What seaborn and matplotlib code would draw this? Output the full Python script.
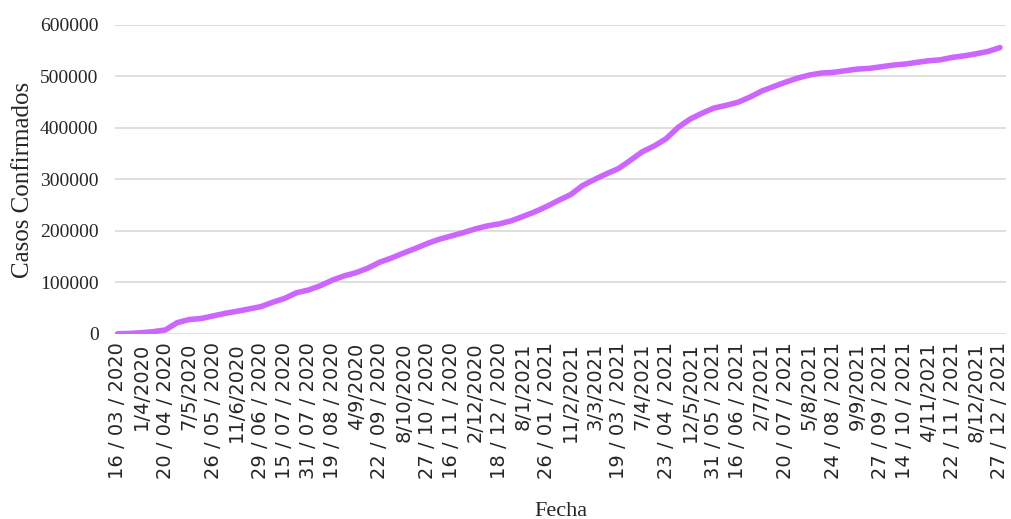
import numpy as np
import pandas as pd
import seaborn as sns
import matplotlib.pyplot as plt

# etiquetas del eje x (una cada ~17 días de registro)
fechas = ['16 / 03 / 2020', '1/4/2020', '20 / 04 / 2020', '7/5/2020', '26 / 05 / 2020',
          '11/6/2020', '29 / 06 / 2020', '15 / 07 / 2020', '31 / 07 / 2020', '19 / 08 / 2020',
          '4/9/2020', '22 / 09 / 2020', '8/10/2020', '27 / 10 / 2020', '16 / 11 / 2020',
          '2/12/2020', '18 / 12 / 2020', '8/1/2021', '26 / 01 / 2021', '11/2/2021',
          '3/3/2021', '19 / 03 / 2021', '7/4/2021', '23 / 04 / 2021', '12/5/2021',
          '31 / 05 / 2021', '16 / 06 / 2021', '2/7/2021', '20 / 07 / 2021', '5/8/2021',
          '24 / 08 / 2021', '9/9/2021', '27 / 09 / 2021', '14 / 10 / 2021', '4/11/2021',
          '22 / 11 / 2021', '8/12/2021', '27 / 12 / 2021']

# casos confirmados acumulados, leídos cada media etiqueta
casos = [500, 1000, 2500, 4500, 7800, 22000, 28000, 30000, 35000, 40000,
         44000, 48500, 53000, 61500, 69000, 80000, 85300, 93700, 104400, 112800,
         119000, 128000, 139500, 147800, 157400, 166300, 175900, 184000, 190400, 196800,
         204000, 209800, 213700, 219600, 228200, 237300, 247800, 259600, 270600, 288200,
         300000, 311000, 321000, 337000, 353700, 365000, 379000, 401000, 417000, 428500,
         438500, 443700, 449600, 459500, 471400, 480200, 488700, 496600, 502600, 506500,
         507800, 510900, 514200, 515500, 518600, 521900, 523900, 527200, 530300, 532300,
         536900, 540000, 543900, 548500, 556000]

df = pd.DataFrame({'pos': np.arange(len(casos)) / 2, 'casos': casos})

sns.set_style('white')
plt.rcParams['font.family'] = ['Liberation Serif', 'DejaVu Serif']

fig = plt.figure(figsize=(10.11, 5.19), dpi=100)
ax = fig.add_axes([0.114, 0.3565, 0.881, 0.5955])

sns.lineplot(data=df, x='pos', y='casos', color='#CC66FF', linewidth=4, ax=ax)

ax.set_ylim(0, 600000)
ax.set_yticks(range(0, 600001, 100000))
ax.set_xlim(-0.1, len(fechas) - 1 + 0.25)
ax.set_xticks(range(len(fechas)))
ax.set_xticklabels(fechas, rotation=90, family='DejaVu Sans', fontsize=14)
ax.tick_params(axis='y', labelsize=14, pad=12, length=0)
ax.tick_params(axis='x', pad=6, length=0)
ax.grid(axis='y', color='#d9d9d9', linewidth=1.2)
ax.set_axisbelow(True)
for s in ax.spines.values():
    s.set_visible(False)

ax.set_ylabel('Casos Confirmados', fontsize=18, labelpad=4)
ax.set_xlabel('Fecha', fontsize=16, labelpad=16)

fig.savefig('out.png', dpi=100)
